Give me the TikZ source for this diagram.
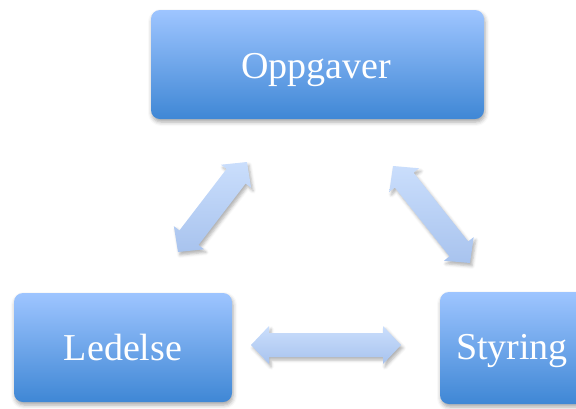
\documentclass[tikz,border=0pt]{standalone}
\usepackage{fontspec}
\setmainfont{Liberation Serif}
\usetikzlibrary{calc,shadows.blur}
\definecolor{boxtop}{HTML}{9EC5FF}
\definecolor{boxmid}{HTML}{88B6F6}
\definecolor{boxbot}{HTML}{3F87D5}
\definecolor{arrtop}{HTML}{CADEFC}
\definecolor{arrbot}{HTML}{A8C3EE}
\tikzset{
  box/.style={rounded corners=9pt, top color=boxtop, middle color=boxmid, bottom color=boxbot,
    blur shadow={shadow xshift=1pt, shadow yshift=-3pt, shadow blur radius=4pt, shadow opacity=35}},
  boxtext/.style={text=white, font=\fontsize{38}{40}\selectfont, anchor=base, inner sep=0pt},
  arrfill/.style={top color=arrtop, bottom color=arrbot,
    blur shadow={shadow xshift=2pt, shadow yshift=-3pt, shadow blur radius=3pt, shadow opacity=30}}
}
\newcommand{\dblarr}[2]{%
  \path coordinate (P) at ($(#1)!18pt!(#2)$)
    coordinate (Q) at ($(#2)!18pt!(#1)$);
  \path[arrfill] (#1) -- ($(P)!19pt!90:(#1)$) -- ($(P)!12pt!90:(#1)$)
    -- ($(Q)!12pt!-90:(#2)$) -- ($(Q)!19pt!-90:(#2)$) -- (#2)
    -- ($(Q)!19pt!90:(#2)$) -- ($(Q)!12pt!90:(#2)$)
    -- ($(P)!12pt!-90:(#1)$) -- ($(P)!19pt!-90:(#1)$) -- cycle;
}
\begin{document}
\begin{tikzpicture}[x=1pt,y=-1pt]
\useasboundingbox (0,0) rectangle (576,408);
\begin{scope}
\clip (0,0) rectangle (576,408);
\path[box] (151,10) rectangle (484,119);
\path[box] (14,293) rectangle (232,402);
\path[box] (440,292) rectangle (640,404);
\end{scope}
\node[boxtext] (oppg) at (316,78) {Oppgaver};
\node[boxtext] (led) at (123,360) {Ledelse};
\node[boxtext] (sty) at (512,359) {Styring};
\coordinate (a1) at (178,252);
\coordinate (a2) at (247,162);
\coordinate (b1) at (393,166);
\coordinate (b2) at (470,263);
\coordinate (c1) at (251,345);
\coordinate (c2) at (401,345);
\dblarr{a1}{a2}
\dblarr{b1}{b2}
\dblarr{c1}{c2}
\end{tikzpicture}
\end{document}
